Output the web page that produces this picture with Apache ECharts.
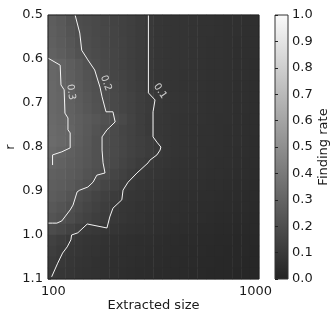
<!DOCTYPE html>
<html>
<head>
<meta charset="utf-8">
<script src="https://cdn.jsdelivr.net/npm/echarts@6/dist/echarts.min.js"></script>
<style>
  html, body { margin: 0; background: #fff; }
  #chart { width: 331px; height: 314px; }
</style>
</head>
<body>
<div id="chart"></div>
<script>
// heatmap cells: column = extracted size (log spaced), row = r
var sizeCats = ['99', '109', '121', '133', '148', '163', '180', '199', '220', '243', '269', '297',
  '329', '363', '402', '444', '491', '543', '600', '663', '733', '810', '896', '990'];
var rCats = ['0.5125', '0.5375', '0.5625', '0.5875', '0.6125', '0.6375', '0.6625', '0.6875',
  '0.7125', '0.7375', '0.7625', '0.7875', '0.8125', '0.8375', '0.8625', '0.8875',
  '0.9125', '0.9375', '0.9625', '0.9875', '1.0125', '1.0375', '1.0625', '1.0875'];
var rate = [
  [0.27, 0.25, 0.22, 0.195, 0.185, 0.175, 0.165, 0.15, 0.14, 0.13, 0.115, 0.10, 0.09, 0.085, 0.08, 0.078, 0.075, 0.07, 0.068, 0.065, 0.062, 0.06, 0.058, 0.055],
  [0.275, 0.255, 0.23, 0.20, 0.19, 0.178, 0.167, 0.152, 0.14, 0.13, 0.115, 0.10, 0.09, 0.085, 0.08, 0.078, 0.075, 0.07, 0.068, 0.065, 0.062, 0.06, 0.058, 0.055],
  [0.28, 0.26, 0.235, 0.21, 0.195, 0.18, 0.168, 0.155, 0.142, 0.13, 0.115, 0.10, 0.09, 0.085, 0.08, 0.077, 0.074, 0.07, 0.067, 0.064, 0.061, 0.058, 0.056, 0.054],
  [0.29, 0.27, 0.245, 0.22, 0.198, 0.185, 0.17, 0.157, 0.143, 0.13, 0.115, 0.10, 0.09, 0.085, 0.08, 0.077, 0.074, 0.07, 0.067, 0.064, 0.061, 0.058, 0.056, 0.054],
  [0.31, 0.298, 0.27, 0.245, 0.215, 0.195, 0.178, 0.16, 0.145, 0.132, 0.117, 0.10, 0.09, 0.085, 0.08, 0.077, 0.074, 0.07, 0.067, 0.064, 0.061, 0.058, 0.056, 0.053],
  [0.315, 0.30, 0.275, 0.25, 0.225, 0.202, 0.185, 0.165, 0.15, 0.135, 0.118, 0.10, 0.09, 0.085, 0.08, 0.076, 0.073, 0.07, 0.066, 0.063, 0.06, 0.057, 0.055, 0.052],
  [0.32, 0.302, 0.28, 0.255, 0.23, 0.208, 0.19, 0.17, 0.152, 0.137, 0.12, 0.10, 0.09, 0.085, 0.08, 0.076, 0.073, 0.07, 0.066, 0.063, 0.06, 0.057, 0.055, 0.052],
  [0.32, 0.305, 0.285, 0.26, 0.235, 0.212, 0.195, 0.175, 0.158, 0.142, 0.125, 0.11, 0.097, 0.088, 0.082, 0.077, 0.073, 0.07, 0.066, 0.063, 0.06, 0.057, 0.054, 0.051],
  [0.32, 0.305, 0.288, 0.265, 0.24, 0.218, 0.20, 0.178, 0.16, 0.143, 0.127, 0.11, 0.096, 0.088, 0.082, 0.077, 0.073, 0.07, 0.066, 0.063, 0.06, 0.057, 0.054, 0.051],
  [0.325, 0.31, 0.295, 0.275, 0.255, 0.235, 0.215, 0.20, 0.175, 0.15, 0.127, 0.108, 0.095, 0.087, 0.081, 0.076, 0.072, 0.068, 0.065, 0.062, 0.059, 0.056, 0.053, 0.05],
  [0.33, 0.315, 0.30, 0.275, 0.25, 0.225, 0.20, 0.18, 0.16, 0.143, 0.125, 0.108, 0.095, 0.087, 0.08, 0.075, 0.071, 0.067, 0.064, 0.061, 0.058, 0.055, 0.052, 0.049],
  [0.335, 0.32, 0.302, 0.27, 0.245, 0.215, 0.198, 0.18, 0.162, 0.146, 0.13, 0.114, 0.099, 0.088, 0.08, 0.075, 0.07, 0.066, 0.063, 0.06, 0.057, 0.054, 0.051, 0.048],
  [0.32, 0.30, 0.28, 0.26, 0.24, 0.215, 0.198, 0.18, 0.162, 0.146, 0.13, 0.114, 0.10, 0.088, 0.08, 0.074, 0.07, 0.066, 0.062, 0.059, 0.056, 0.053, 0.05, 0.047],
  [0.30, 0.29, 0.27, 0.255, 0.235, 0.215, 0.198, 0.175, 0.155, 0.135, 0.115, 0.10, 0.09, 0.082, 0.076, 0.071, 0.067, 0.063, 0.06, 0.057, 0.054, 0.051, 0.048, 0.045],
  [0.285, 0.275, 0.26, 0.245, 0.225, 0.205, 0.185, 0.16, 0.14, 0.12, 0.102, 0.09, 0.082, 0.076, 0.071, 0.067, 0.063, 0.06, 0.057, 0.054, 0.051, 0.048, 0.045, 0.042],
  [0.275, 0.265, 0.25, 0.23, 0.205, 0.185, 0.16, 0.14, 0.12, 0.10, 0.09, 0.082, 0.076, 0.071, 0.067, 0.063, 0.059, 0.056, 0.053, 0.05, 0.047, 0.044, 0.041, 0.039],
  [0.265, 0.25, 0.23, 0.195, 0.175, 0.155, 0.135, 0.115, 0.10, 0.09, 0.082, 0.076, 0.071, 0.066, 0.062, 0.058, 0.055, 0.052, 0.049, 0.046, 0.043, 0.04, 0.038, 0.036],
  [0.245, 0.23, 0.205, 0.18, 0.16, 0.14, 0.12, 0.10, 0.09, 0.082, 0.076, 0.07, 0.065, 0.061, 0.057, 0.054, 0.051, 0.048, 0.045, 0.042, 0.04, 0.037, 0.035, 0.033],
  [0.23, 0.21, 0.19, 0.165, 0.145, 0.125, 0.11, 0.098, 0.088, 0.08, 0.073, 0.067, 0.062, 0.058, 0.054, 0.051, 0.048, 0.045, 0.042, 0.039, 0.037, 0.034, 0.032, 0.03],
  [0.19, 0.17, 0.15, 0.125, 0.108, 0.097, 0.09, 0.082, 0.075, 0.069, 0.064, 0.059, 0.055, 0.051, 0.048, 0.045, 0.042, 0.039, 0.037, 0.034, 0.032, 0.03, 0.028, 0.026],
  [0.14, 0.12, 0.102, 0.092, 0.084, 0.077, 0.071, 0.066, 0.061, 0.057, 0.053, 0.05, 0.047, 0.044, 0.041, 0.038, 0.036, 0.034, 0.031, 0.029, 0.027, 0.025, 0.024, 0.022],
  [0.125, 0.108, 0.095, 0.087, 0.079, 0.073, 0.067, 0.062, 0.058, 0.054, 0.05, 0.047, 0.044, 0.041, 0.038, 0.036, 0.034, 0.031, 0.029, 0.027, 0.025, 0.023, 0.022, 0.02],
  [0.11, 0.098, 0.088, 0.08, 0.073, 0.067, 0.062, 0.058, 0.054, 0.05, 0.047, 0.044, 0.041, 0.038, 0.036, 0.033, 0.031, 0.029, 0.027, 0.025, 0.023, 0.021, 0.02, 0.018],
  [0.10, 0.09, 0.082, 0.075, 0.069, 0.064, 0.059, 0.055, 0.051, 0.047, 0.044, 0.041, 0.038, 0.036, 0.033, 0.031, 0.029, 0.027, 0.025, 0.023, 0.021, 0.02, 0.018, 0.017]
];

// contour lines [size, r]
var contour01 = [
  [295, 0.5], [295, 0.677], [318, 0.693], [314, 0.709], [311, 0.72], [311, 0.777],
  [325, 0.789], [340, 0.8], [337, 0.807], [325, 0.818], [300, 0.83], [294, 0.836],
  [259, 0.859], [234, 0.88], [221, 0.898], [218, 0.92], [197, 0.939], [190, 0.959],
  [184, 0.984], [147, 0.975], [132, 0.995], [123, 1.0], [122, 1.011], [117, 1.027],
  [111, 1.041], [105, 1.064], [98, 1.095]
];
var contour02 = [
  [128, 0.5], [135, 0.541], [138, 0.58], [148, 0.602], [160, 0.625], [164, 0.641],
  [170, 0.664], [174, 0.686], [182, 0.72], [197, 0.72], [202, 0.743], [190, 0.755],
  [184, 0.761], [174, 0.777], [174, 0.807], [176, 0.836], [180, 0.859], [164, 0.864],
  [157, 0.88], [148, 0.891], [135, 0.898], [131, 0.902], [125, 0.932], [121, 0.943],
  [110, 0.968], [104, 0.973], [99, 0.973], [94, 0.973]
];
var contour03 = [
  [94, 0.598], [108, 0.614], [109, 0.659], [113, 0.67], [114, 0.723], [118, 0.734],
  [118, 0.761], [121, 0.768], [121, 0.802], [110, 0.811], [99, 0.818], [99, 0.841]
];
var contourNames = ['0.1', '0.2', '0.3'];
var contourLabelAt = [[337, 0.673], [182, 0.655], [122, 0.675]];

var rTicks = [0.5, 0.6, 0.7, 0.8, 0.9, 1.0, 1.1];
var sizeTicks = [100, 1000];

var myChart = echarts.init(document.getElementById('chart'));

var heat = [];
for (var j = 0; j < rCats.length; j++) {
  for (var i = 0; i < sizeCats.length; i++) {
    heat.push([i, j, rate[j][i]]);
  }
}

var font = 'DejaVu Sans';
var txt = '#1a1a1a';
var lowColor = '#232323';
var highColor = '#fafafa';
// plot box: x 48..259, y 15..279 (chart is 331 x 314)
var box = { left: 48, right: 72, top: 15, bottom: 35, outerBoundsMode: 'none', containLabel: false };

option = {
  animation: false,
  backgroundColor: '#fff',
  grid: [
    Object.assign({}, box),
    Object.assign({ show: true, z: 10, backgroundColor: 'transparent', borderColor: '#222', borderWidth: 1 }, box),
    // colorbar
    { left: 275, right: 43, top: 15, bottom: 35, outerBoundsMode: 'none', containLabel: false,
      show: true, borderColor: '#333', borderWidth: 1,
      backgroundColor: {
        type: 'linear', x: 0, y: 0, x2: 0, y2: 1,
        colorStops: [{ offset: 0, color: highColor }, { offset: 1, color: lowColor }]
      } }
  ],
  xAxis: [
    { gridIndex: 0, type: 'category', data: sizeCats, show: false },
    {
      gridIndex: 1, type: 'log', logBase: 10, min: 94, max: 1040,
      name: 'Extracted size', nameLocation: 'middle', nameGap: 20, nameMoveOverlap: false,
      nameTextStyle: { fontFamily: font, fontSize: 13, color: txt },
      axisLine: { show: false }, axisTick: { show: false },
      splitLine: { show: false }, minorTick: { show: false },
      axisLabel: {
        fontFamily: font, fontSize: 13, color: txt, margin: 6,
        formatter: function (v) {
          for (var k = 0; k < sizeTicks.length; k++) {
            if (Math.abs(v - sizeTicks[k]) < 1e-6) return String(sizeTicks[k]);
          }
          return '';
        }
      }
    },
    { gridIndex: 2, type: 'value', show: false, min: 0, max: 1 }
  ],
  yAxis: [
    { gridIndex: 0, type: 'category', data: rCats, inverse: true, show: false },
    {
      gridIndex: 1, type: 'value', min: rTicks[0], max: rTicks[rTicks.length - 1],
      interval: 0.1, inverse: true,
      name: 'r', nameLocation: 'middle', nameGap: 31, nameMoveOverlap: false,
      nameTextStyle: { fontFamily: font, fontSize: 13, color: txt },
      axisLine: { show: false },
      axisTick: { show: true, inside: true, length: 3, lineStyle: { color: '#999' } },
      splitLine: { show: false },
      axisLabel: { fontFamily: font, fontSize: 13, color: txt, margin: 5,
        formatter: function (v) { return v.toFixed(1); } }
    },
    {
      gridIndex: 2, type: 'value', min: 0, max: 1, interval: 0.1, position: 'right',
      name: 'Finding rate', nameLocation: 'middle', nameGap: 29,
      nameTextStyle: { fontFamily: font, fontSize: 13, color: txt },
      axisLine: { show: false },
      axisTick: { show: true, length: 3, lineStyle: { color: '#222' } },
      splitLine: { show: false },
      axisLabel: { fontFamily: font, fontSize: 13, color: txt, margin: 4,
        formatter: function (v) { return v.toFixed(1); } }
    }
  ],
  visualMap: {
    type: 'continuous', show: false, min: 0, max: 1, seriesIndex: 0,
    inRange: { color: [lowColor, highColor] }
  },
  series: [
    { type: 'heatmap', xAxisIndex: 0, yAxisIndex: 0, data: heat, z: 1 },
    { type: 'line', xAxisIndex: 1, yAxisIndex: 1, data: contour01, symbol: 'none',
      lineStyle: { color: '#f4f4f4', width: 1 } },
    { type: 'line', xAxisIndex: 1, yAxisIndex: 1, data: contour02, symbol: 'none',
      lineStyle: { color: '#f4f4f4', width: 1 } },
    { type: 'line', xAxisIndex: 1, yAxisIndex: 1, data: contour03, symbol: 'none',
      lineStyle: { color: '#f4f4f4', width: 1 } },
    {
      type: 'scatter', xAxisIndex: 1, yAxisIndex: 1, symbolSize: 0,
      data: [
        { value: contourLabelAt[0], name: contourNames[0], label: { rotate: -55 } },
        { value: contourLabelAt[1], name: contourNames[1], label: { rotate: -70 } },
        { value: contourLabelAt[2], name: contourNames[2], label: { rotate: -82 } }
      ],
      label: { show: true, position: 'inside', formatter: '{b}',
        color: '#f4f4f4', fontFamily: font, fontSize: 10 }
    }
  ]
};

myChart.setOption(option);
</script>
</body>
</html>
